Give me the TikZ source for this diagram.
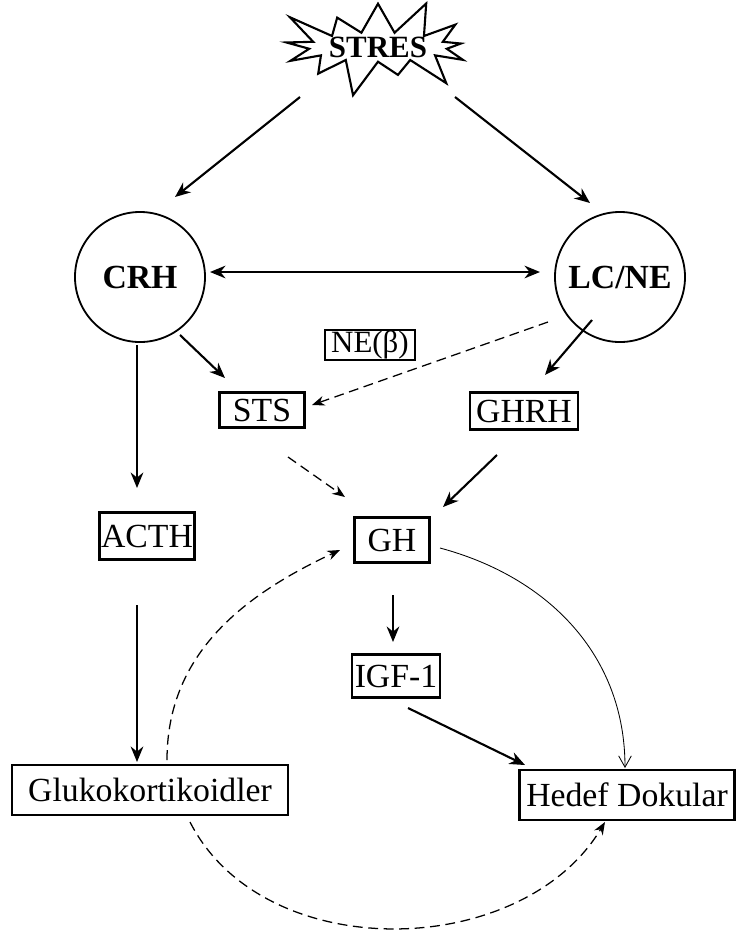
\documentclass[tikz,border=0pt]{standalone}
\usepackage{fontspec}
\setmainfont{Liberation Serif}
\usetikzlibrary{arrows.meta,shapes.symbols}

\begin{document}
\begin{tikzpicture}[x=0.025cm,y=-0.025cm,
  kutu/.style={draw,line width=1.6pt,inner sep=0pt,font=\fontsize{24}{28}\selectfont},
  daire/.style={draw,circle,line width=1.3pt,minimum size=3.25cm,font=\fontsize{24}{28}\selectfont\bfseries},
  ok/.style={line width=1.5pt,-{Stealth[length=11pt,width=9pt]}},
  kesik/.style={line width=0.9pt,dash pattern=on 7pt off 4pt,-{Stealth[length=9pt,width=7pt]}},
  ince/.style={line width=0.6pt,-{Straight Barb[length=8pt,width=9pt]}}]
\useasboundingbox (0,0) rectangle (741,950);

\node[starburst,draw,line width=1.5pt,starburst points=13,starburst point height=1cm,
  minimum width=4.6cm,minimum height=2.1cm,inner sep=0pt,
  font=\fontsize{22}{26}\selectfont\bfseries] (stres) at (378,47) {STRES};

\node[daire] (crh) at (140,277) {CRH};
\node[daire] (lcne) at (620,277) {LC/NE};

\node[kutu,minimum width=2.25cm,minimum height=0.75cm,font=\fontsize{22}{26}\selectfont] (neb) at (370,345) {NE(β)};
\node[kutu,minimum width=2.125cm,minimum height=0.875cm] (sts) at (262,410) {STS};
\node[kutu,minimum width=2.7cm,minimum height=0.925cm] (ghrh) at (524,411) {GHRH};
\node[kutu,minimum width=2.375cm,minimum height=1.175cm] (acth) at (147,536) {ACTH};
\node[kutu,minimum width=1.875cm,minimum height=1.125cm] (gh) at (392,540) {GH};
\node[kutu,minimum width=2.2cm,minimum height=1.075cm] (igf) at (396,676) {IGF-1};
\node[kutu,minimum width=6.9cm,minimum height=1.25cm] (gluko) at (150,790) {Glukokortikoidler};
\node[kutu,minimum width=5.375cm,minimum height=1.25cm] (hedef) at (627,795) {Hedef Dokular};

\draw[ok] ([shift={(-78,50)}]stres.center) -- ([shift={(35,-80)}]crh.center);
\draw[ok] ([shift={(77,50)}]stres.center) -- ([shift={(-30,-74)}]lcne.center);
\draw[line width=1.5pt,{Stealth[length=11pt,width=9pt]}-{Stealth[length=11pt,width=9pt]}]
  ([shift={(70,-5)}]crh.center) -- ([shift={(-80,-5)}]lcne.center);

\draw[ok] ([shift={(40,58)}]crh.center) -- ([shift={(-37,-32)}]sts.center);
\draw[ok] ([shift={(-28,43)}]lcne.center) -- ([shift={(21,-36)}]ghrh.center);
\draw[kesik] ([shift={(-72,45)}]lcne.center) -- ([shift={(50,-5)}]sts.center);

\draw[ok] ([shift={(-3,68)}]crh.center) -- ([shift={(-10,-48)}]acth.center);
\draw[ok] ([shift={(-10,69)}]acth.center) -- ([shift={(-13,-28)}]gluko.center);

\draw[kesik] ([shift={(26,47)}]sts.center) -- ([shift={(-47,-43)}]gh.center);
\draw[ok] ([shift={(-27,44)}]ghrh.center) -- ([shift={(51,-33)}]gh.center);
\draw[ok] ([shift={(1,55)}]gh.center) -- ([shift={(-3,-34)}]igf.center);
\draw[ok] ([shift={(12,32)}]igf.center) -- ([shift={(-102,-30)}]hedef.center);

\draw[ince] ([shift={(48,8)}]gh.center) to[out=-15,in=90] ([shift={(-2,-27)}]hedef.center);
\draw[kesik] ([shift={(17,-30)}]gluko.center) to[out=90,in=205] ([shift={(-52,10)}]gh.center);
\draw[kesik] ([shift={(40,32)}]gluko.center) to[out=-63,in=-121] ([shift={(-22,27)}]hedef.center);
\end{tikzpicture}
\end{document}
